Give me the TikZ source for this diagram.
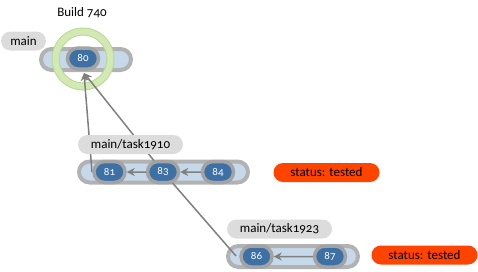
\documentclass[tikz,border=0pt]{standalone}
\usepackage{fontspec}
\setmainfont{Carlito}[Numbers=OldStyle]
\usetikzlibrary{shapes.misc,arrows.meta}
\definecolor{laneborder}{HTML}{B2B2B2}
\definecolor{lanefill}{HTML}{C6D9EB}
\definecolor{cblue}{HTML}{3D71A6}
\definecolor{cgray}{HTML}{A3A3A3}
\definecolor{pillgray}{HTML}{DCDCDC}
\definecolor{statusred}{HTML}{FF4400}
\definecolor{ringgreen}{HTML}{D3E9B3}
\definecolor{ringedge}{HTML}{B9D798}
\definecolor{arrgray}{HTML}{7F7F7F}
\begin{document}
\begin{tikzpicture}[x=1pt,y=-1pt,
  lane/.style={rounded rectangle, draw=laneborder, fill=lanefill, line width=4pt, inner sep=0pt, minimum height=21pt},
  commit/.style={rounded rectangle, draw=cgray, fill=cblue, line width=3.5pt, inner sep=0pt, minimum width=31pt, minimum height=21pt, text=white, font=\fontsize{11}{13}\selectfont},
  pill/.style={rounded rectangle, fill=pillgray, inner sep=0pt, minimum height=19pt, font=\fontsize{13}{15}\selectfont},
  status/.style={rounded rectangle, fill=statusred, inner sep=0pt, minimum height=19pt, minimum width=106pt, font=\fontsize{13}{15}\selectfont},
  arr/.style={draw=arrgray, line width=1.5pt, -{Stealth[length=8pt,width=8pt]}},
  link/.style={draw=arrgray, line width=1.5pt}]
\useasboundingbox (0,0) rectangle (478,271);
% lanes
\node[lane, minimum width=90pt] (lmain) at (86,59.5) {};
\node[lane, minimum width=169pt] (l1910) at (163.5,172) {};
\node[lane, minimum width=130pt] (l1923) at (293,256.5) {};
% build ring
\node[circle, draw=ringedge, line width=8pt, minimum size=55pt, inner sep=0pt] (ringo) at (83,59) {};
\node[circle, draw=ringgreen, line width=6pt, minimum size=55pt, inner sep=0pt] (ringi) at (83,59) {};
\node[font=\fontsize{13}{15}\selectfont] (build) at (82,13) {Build 740};
% commit positions (coordinates for links)
\coordinate (p80) at (83,58.5);
\coordinate (p81) at (109.5,172);
\coordinate (p83) at (163,172);
\coordinate (p84) at (218,172);
\coordinate (p86) at (256.5,256.5);
\coordinate (p87) at (330,256.5);
\coordinate (tip80) at (84,73);
\coordinate (s81) at (92,172);
\coordinate (s86) at (236,256);
% links
\draw[arr] (s81) -- (tip80);
\draw[arr] (p83) -- (tip80);
\draw[link] (s86) -- (p83);
% labels
\node[pill, minimum width=45pt] (lbmain) at (23.5,41) {main};
\node[pill, minimum width=105pt] (lb1910) at (130.5,144.5) {main/task1910};
\node[pill, minimum width=105pt] (lb1923) at (279.5,229) {main/task1923};
% commits
\node[commit] (c80) at (p80) {80};
\node[commit] (c81) at (p81) {81};
\node[commit] (c83) at (p83) {83};
\node[commit] (c84) at (p84) {84};
\node[commit] (c86) at (p86) {86};
\node[commit] (c87) at (p87) {87};
\draw[arr] (c83) -- (c81);
\draw[arr] (c84) -- (c83);
\draw[arr] (c87) -- (c86);
% statuses
\node[status] (st1) at (326.5,172.5) {status: tested};
\node[status] (st2) at (424.5,255) {status: tested};
\end{tikzpicture}
\end{document}
